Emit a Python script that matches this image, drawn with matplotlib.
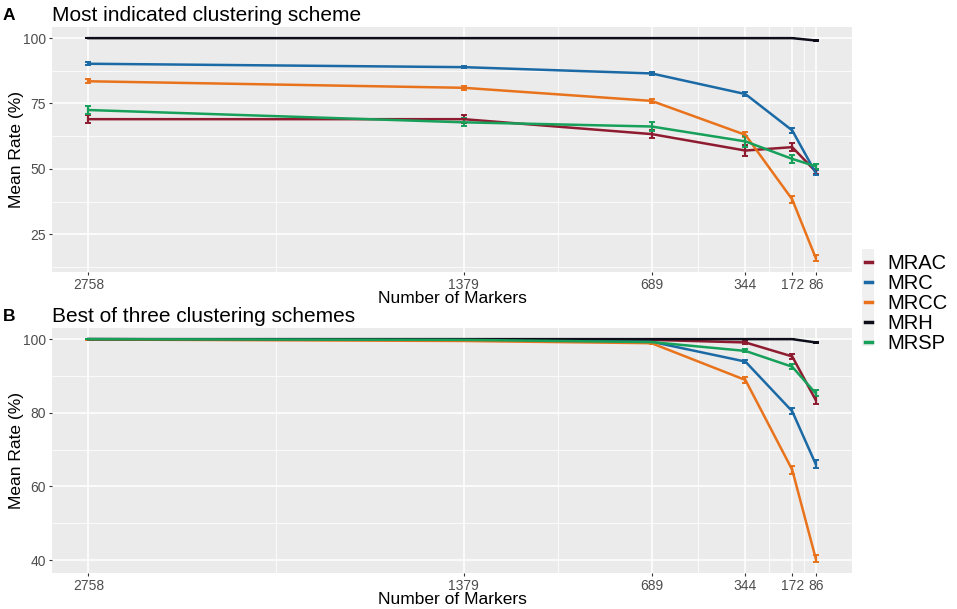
import numpy as np
import matplotlib
matplotlib.use("Agg")
import matplotlib.pyplot as plt
from matplotlib.patches import Rectangle

plt.rcParams['font.family'] = ['Liberation Sans', 'DejaVu Sans']

markers = [2758, 1379, 689, 344, 172, 86]
series = ["MRAC", "MRC", "MRCC", "MRH", "MRSP"]
colors = ["#8E1B2F", "#1B6AA5", "#E8731C", "#0D0D1A", "#16A05A"]

# panel A: most indicated clustering scheme
a_mean = {
    "MRAC": [69.0, 69.0, 63.3, 57.0, 58.3, 49.0],
    "MRC": [90.2, 88.9, 86.5, 78.6, 64.7, 48.5],
    "MRCC": [83.5, 81.0, 76.0, 63.0, 38.3, 16.0],
    "MRH": [100.0, 100.0, 100.0, 100.0, 100.0, 99.1],
    "MRSP": [72.5, 67.8, 66.2, 60.5, 53.8, 51.0],
}
a_err = {
    "MRAC": [1.5, 1.5, 1.5, 2.0, 1.5, 1.0],
    "MRC": [0.5, 0.5, 0.6, 0.7, 1.0, 1.0],
    "MRCC": [0.7, 0.8, 0.9, 1.0, 1.2, 1.2],
    "MRH": [0.0, 0.0, 0.0, 0.0, 0.0, 0.2],
    "MRSP": [1.5, 1.5, 1.8, 2.0, 1.5, 1.0],
}

# panel B: best of three clustering schemes
b_mean = {
    "MRAC": [100.0, 99.9, 99.8, 99.1, 95.3, 83.5],
    "MRC": [100.0, 99.8, 99.3, 93.9, 80.4, 66.1],
    "MRCC": [99.9, 99.5, 98.9, 88.9, 64.5, 40.5],
    "MRH": [100.0, 100.0, 100.0, 100.0, 100.0, 99.1],
    "MRSP": [100.0, 99.8, 99.2, 96.8, 92.5, 85.3],
}
b_err = {
    "MRAC": [0.0, 0.1, 0.1, 0.3, 0.6, 1.0],
    "MRC": [0.0, 0.1, 0.2, 0.5, 0.8, 1.0],
    "MRCC": [0.1, 0.1, 0.2, 0.7, 1.0, 1.0],
    "MRH": [0.0, 0.0, 0.0, 0.0, 0.0, 0.2],
    "MRSP": [0.0, 0.1, 0.1, 0.4, 0.7, 0.8],
}

fig = plt.figure(figsize=(9.57, 6.09), dpi=100)
W, H = 957.0, 609.0
axA = fig.add_axes([52 / W, 1 - 272 / H, 800 / W, 245 / H])
axB = fig.add_axes([52 / W, 1 - 573 / H, 800 / W, 245 / H])


def draw(ax, mean, err, yticks, title, letter):
    ax.set_facecolor("#EBEBEB")
    for s in ax.spines.values():
        s.set_visible(False)
    x = np.array(markers)
    for name, c in zip(series, colors):
        ax.errorbar(x, mean[name], yerr=err[name], color=c, lw=1.8,
                    elinewidth=1.6, capsize=2.0, capthick=1.4, zorder=3)
    ax.set_xticks(markers)
    ax.set_xticklabels([str(m) for m in markers])
    mids = [(markers[i] + markers[i + 1]) / 2 for i in range(len(markers) - 1)]
    ax.set_xticks(mids, minor=True)
    ax.set_yticks(yticks)
    step = yticks[1] - yticks[0]
    ymid = [yticks[0] - step / 2] + [t + step / 2 for t in yticks[:-1]]
    ax.set_yticks(ymid, minor=True)
    # ggplot-like 5% expansion, set after ticks so they don't widen the view
    lo = min(min(np.array(mean[n]) - np.array(err[n])) for n in series)
    hi = max(max(np.array(mean[n]) + np.array(err[n])) for n in series)
    pad = (hi - lo) * 0.05
    ax.set_ylim(lo - pad, hi + pad)
    xpad = (max(markers) - min(markers)) * 0.05
    ax.set_xlim(max(markers) + xpad, min(markers) - xpad)
    ax.grid(which="major", color="white", lw=1.1, zorder=0)
    ax.grid(which="minor", color="white", lw=0.55, zorder=0)
    ax.set_axisbelow(True)
    ax.tick_params(which="major", length=2.5, color="#333333",
                   labelsize=10, labelcolor="#4D4D4D", pad=2)
    ax.tick_params(which="minor", length=0)
    ax.set_xlabel("Number of Markers", fontsize=12.5, labelpad=-1)
    ax.set_ylabel("Mean Rate (%)", fontsize=12.5)
    ax.yaxis.set_label_coords(-0.035, 0.5)
    ax.set_title(title, loc="left", fontsize=15, pad=4)
    ax.text(-0.062, 1.015, letter, transform=ax.transAxes, fontsize=12.5,
            fontweight="bold", va="bottom", ha="left")


draw(axA, a_mean, a_err, [25, 50, 75, 100], "Most indicated clustering scheme", "A")
draw(axB, b_mean, b_err, [40, 60, 80, 100], "Best of three clustering schemes", "B")

# legend key background strip (ggplot grey keys)
fig.patches.append(Rectangle((862 / W, 1 - 346 / H), 12 / W, 97 / H,
                             transform=fig.transFigure, facecolor="#F0F0F0",
                             edgecolor="none", zorder=0))
handles = [plt.Line2D([0], [0], color=c, lw=2.5) for c in colors]
leg = fig.legend(handles, series, loc="upper left", bbox_to_anchor=(851 / W, 1 - 240 / H),
                 frameon=False, fontsize=14.5, handlelength=0.35, handletextpad=0.75,
                 labelspacing=0.05, borderpad=0.2)

fig.savefig("out.png", dpi=100)
